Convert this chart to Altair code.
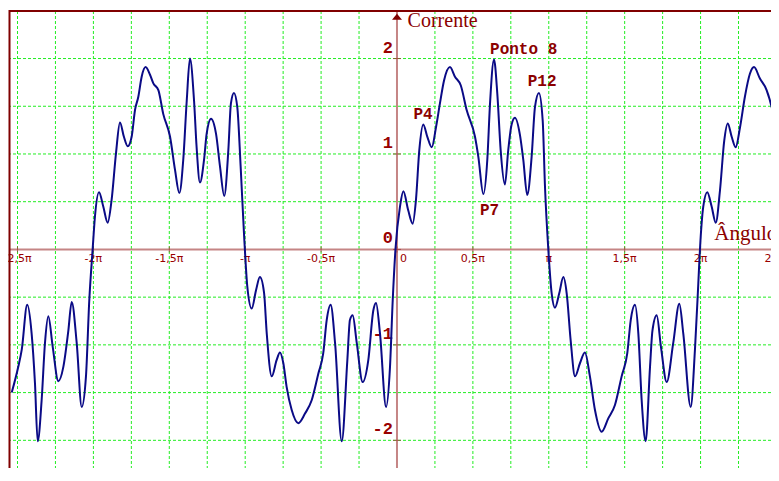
import altair as alt
import pandas as pd

# Curve: angle in multiples of pi, current value
angle_pi = [-2.538, -2.495, -2.472, -2.436, -2.407, -2.385, -2.367, -2.341, -2.319, -2.297,
            -2.268, -2.231, -2.198, -2.165, -2.143, -2.110, -2.077, -2.049, -2.027, -2.005,
            -1.990, -1.963, -1.935, -1.906, -1.880, -1.851, -1.825, -1.799, -1.774, -1.748,
            -1.726, -1.704, -1.682, -1.656, -1.627, -1.605, -1.572, -1.540, -1.495, -1.462,
            -1.434, -1.408, -1.385, -1.364, -1.337, -1.320, -1.298, -1.271, -1.254, -1.225,
            -1.192, -1.166, -1.138, -1.111, -1.094, -1.074, -1.052, -1.030, -1.008, -0.986,
            -0.957, -0.929, -0.903, -0.876, -0.858, -0.825, -0.793, -0.771, -0.749, -0.727,
            -0.694, -0.650, -0.606, -0.562, -0.518, -0.486, -0.463, -0.437, -0.408, -0.364,
            -0.327, -0.310, -0.292, -0.265, -0.226, -0.189, -0.156, -0.138, -0.112, -0.072,
            -0.046, -0.028, -0.010, 0.020, 0.042, 0.074, 0.103, 0.125, 0.147, 0.173,
            0.200, 0.229, 0.257, 0.283, 0.310, 0.349, 0.382, 0.420, 0.459, 0.514,
            0.536, 0.569, 0.595, 0.613, 0.639, 0.661, 0.683, 0.711, 0.733, 0.754,
            0.777, 0.810, 0.832, 0.858, 0.887, 0.909, 0.935, 0.960, 0.975, 0.997,
            1.019, 1.041, 1.069, 1.096, 1.118, 1.144, 1.173, 1.206, 1.238, 1.271,
            1.304, 1.348, 1.392, 1.436, 1.480, 1.517, 1.540, 1.568, 1.590, 1.612,
            1.638, 1.667, 1.683, 1.711, 1.739, 1.777, 1.820, 1.860, 1.886, 1.935,
            1.963, 1.985, 1.996, 2.018, 2.044, 2.073, 2.100, 2.128, 2.156, 2.179,
            2.205, 2.231, 2.260, 2.292, 2.325, 2.352, 2.391, 2.435, 2.479, 2.512]

current = [-1.50, -1.23, -1.05, -0.58, -0.88, -1.40, -2.01, -1.58, -0.98, -0.70,
           -1.02, -1.38, -1.23, -0.85, -0.55, -0.98, -1.65, -1.33, -0.53, 0.00,
           0.34, 0.60, 0.45, 0.28, 0.52, 1.01, 1.33, 1.18, 1.08, 1.18,
           1.46, 1.60, 1.81, 1.91, 1.83, 1.74, 1.67, 1.42, 1.18, 0.83,
           0.59, 0.94, 1.56, 2.00, 1.56, 1.07, 0.70, 0.94, 1.21, 1.37,
           1.21, 0.87, 0.56, 1.04, 1.53, 1.64, 1.49, 0.87, 0.17, -0.39,
           -0.62, -0.43, -0.29, -0.45, -0.88, -1.33, -1.16, -1.08, -1.19, -1.44,
           -1.68, -1.82, -1.72, -1.58, -1.30, -1.09, -0.74, -0.58, -0.98, -2.01,
           -1.16, -0.74, -0.69, -0.98, -1.39, -1.16, -0.64, -0.56, -0.88, -1.65,
           -1.23, -0.53, 0.00, 0.45, 0.61, 0.41, 0.27, 0.52, 1.04, 1.31,
           1.18, 1.07, 1.28, 1.53, 1.77, 1.91, 1.81, 1.72, 1.46, 1.18,
           0.97, 0.58, 0.94, 1.53, 1.99, 1.63, 1.04, 0.68, 1.04, 1.30,
           1.38, 1.20, 0.94, 0.57, 0.97, 1.49, 1.64, 1.35, 0.66, 0.00,
           -0.46, -0.61, -0.46, -0.29, -0.46, -0.95, -1.33, -1.19, -1.08, -1.33,
           -1.68, -1.91, -1.77, -1.63, -1.33, -1.09, -0.74, -0.58, -0.88, -1.58,
           -2.01, -1.23, -0.85, -0.69, -1.02, -1.39, -0.98, -0.57, -0.88, -1.65,
           -1.05, -0.36, 0.00, 0.45, 0.60, 0.45, 0.28, 0.62, 1.14, 1.32,
           1.18, 1.07, 1.28, 1.60, 1.84, 1.91, 1.79, 1.67, 1.42, 1.14]

# Axis ticks and labels
x_tick_values = [-2.5, -2, -1.5, -1, -0.5, 0, 0.5, 1, 1.5, 2, 2.5]
x_tick_labels = ["-2,5π", "-2π", "-1,5π", "-π", "-0,5π", "0", "0,5π", "π", "1,5π", "2π", "2,5π"]
y_tick_values = [-2, -1, 0, 1, 2]
y_tick_labels = ["-2", "-1", "0", "1", "2"]

# Grid lines (dashed green)
grid_x = [-2.5, -2.25, -2.0, -1.75, -1.5, -1.25, -1.0, -0.75, -0.5, -0.25,
          0.25, 0.5, 0.75, 1.0, 1.25, 1.5, 1.75, 2.0, 2.25, 2.5]
grid_y = [-2.0, -1.5, -1.0, -0.5, 0.5, 1.0, 1.5, 2.0]

# Point labels
point_text = ["P4", "Ponto 8", "P12", "P7"]
point_x = [0.108, 0.613, 0.861, 0.547]
point_y = [1.414, 2.10, 1.762, 0.408]

# Axis names
axis_name_text = ["Corrente", "Ângulo"]
axis_name_x = [0.07, 2.09]
axis_name_y = [2.33, 0.097]
axis_name_size = [20, 21]

X_DOMAIN = [-2.556, 2.464]
Y_DOMAIN = [-2.290, 2.498]
W, H = 762, 457

DARK = "#8b0000"
LABEL = "#990000"
AXIS = "#c58585"
GRID = "#22ee22"

xs = alt.Scale(domain=X_DOMAIN, nice=False, zero=False)
ys = alt.Scale(domain=Y_DOMAIN, nice=False, zero=False)


def X(field):
    return alt.X(field, scale=xs, axis=None)


def Y(field):
    return alt.Y(field, scale=ys, axis=None)


curve_df = pd.DataFrame({"angle": angle_pi, "current": current})
gx_df = pd.DataFrame({"gx": grid_x})
gy_df = pd.DataFrame({"gy": grid_y})
xt_df = pd.DataFrame({"v": x_tick_values, "lab": x_tick_labels, "zero": [0.0] * len(x_tick_values)})
yt_df = pd.DataFrame({"v": y_tick_values, "lab": y_tick_labels, "zero": [0.0] * len(y_tick_values)})
origin_df = pd.DataFrame({"zero": [0.0]})
pts_df = pd.DataFrame({"t": point_text, "x": point_x, "y": point_y})
names_df = pd.DataFrame({"t": axis_name_text, "x": axis_name_x, "y": axis_name_y,
                         "s": axis_name_size})
arrow_df = pd.DataFrame({"x": [0.0], "y": [2.439]})

grid_v = alt.Chart(gx_df).mark_rule(color=GRID, strokeWidth=1, strokeDash=[3, 2]).encode(
    x=X("gx:Q"))
grid_h = alt.Chart(gy_df).mark_rule(color=GRID, strokeWidth=1, strokeDash=[3, 2]).encode(
    y=Y("gy:Q"))

x_axis_line = alt.Chart(origin_df).mark_rule(color=AXIS, strokeWidth=2).encode(y=Y("zero:Q"))
y_axis_line = alt.Chart(origin_df).mark_rule(color=AXIS, strokeWidth=2).encode(x=X("zero:Q"))

x_ticks = alt.Chart(xt_df).mark_tick(orient="vertical", size=6, thickness=1, color="#a03030").encode(
    x=X("v:Q"), y=Y("zero:Q"))
y_ticks = alt.Chart(yt_df).mark_tick(orient="horizontal", size=8, thickness=1, color="#a03030").encode(
    x=X("zero:Q"), y=Y("v:Q"))

x_labels = alt.Chart(xt_df).transform_filter("datum.v != 0").mark_text(
    align="center", baseline="top", dy=4, font="DejaVu Sans", fontSize=11, color=LABEL).encode(
    x=X("v:Q"), y=Y("zero:Q"), text="lab:N")
x_zero_label = alt.Chart(xt_df).transform_filter("datum.v == 0").mark_text(
    align="left", baseline="top", dx=3, dy=4, font="DejaVu Sans", fontSize=11, color=LABEL).encode(
    x=X("v:Q"), y=Y("zero:Q"), text="lab:N")
y_labels = alt.Chart(yt_df).mark_text(
    align="right", baseline="middle", dx=-4, dy=-11, font="Liberation Mono", fontWeight="bold",
    fontSize=17, color=LABEL).encode(
    x=X("zero:Q"), y=Y("v:Q"), text="lab:N")

line = alt.Chart(curve_df).mark_line(color="#0a0a86", strokeWidth=2, interpolate="monotone").encode(
    x=X("angle:Q"), y=Y("current:Q"))

pts = alt.Chart(pts_df).mark_text(align="left", baseline="middle", font="Liberation Mono",
                                   fontWeight="bold", fontSize=16, color=DARK).encode(
    x=X("x:Q"), y=Y("y:Q"), text="t:N")

names = alt.Chart(names_df).mark_text(align="left", baseline="alphabetic",
                                       font="Liberation Serif", color=DARK).encode(
    x=X("x:Q"), y=Y("y:Q"), text="t:N",
    size=alt.Size("s:Q", scale=None, legend=None))

arrow = alt.Chart(arrow_df).mark_point(shape="M-1,0.6L0,-0.6L1,0.6Z", filled=True, size=100,
                                       color="#800000", opacity=1).encode(
    x=X("x:Q"), y=Y("y:Q"))

frame_left = alt.Chart(arrow_df).mark_rule(color="#800000", strokeWidth=2).encode(
    x=alt.value(0.5), y=alt.value(-1), y2=alt.value(H))
frame_top = alt.Chart(arrow_df).mark_rule(color="#800000", strokeWidth=2).encode(
    x=alt.value(0), x2=alt.value(W), y=alt.value(0))

chart = alt.layer(grid_v, grid_h, x_axis_line, y_axis_line, x_ticks, y_ticks,
                  x_labels, x_zero_label, y_labels, line, pts, names, arrow,
                  frame_left, frame_top).properties(
    width=W, height=H,
    autosize=alt.AutoSizeParams(type="none"),
    padding={"left": 1, "top": 3, "right": 0, "bottom": 0},
    background="white",
).configure_view(strokeWidth=0)

chart.save("out.html", embed_options={"renderer": "svg", "actions": False})
